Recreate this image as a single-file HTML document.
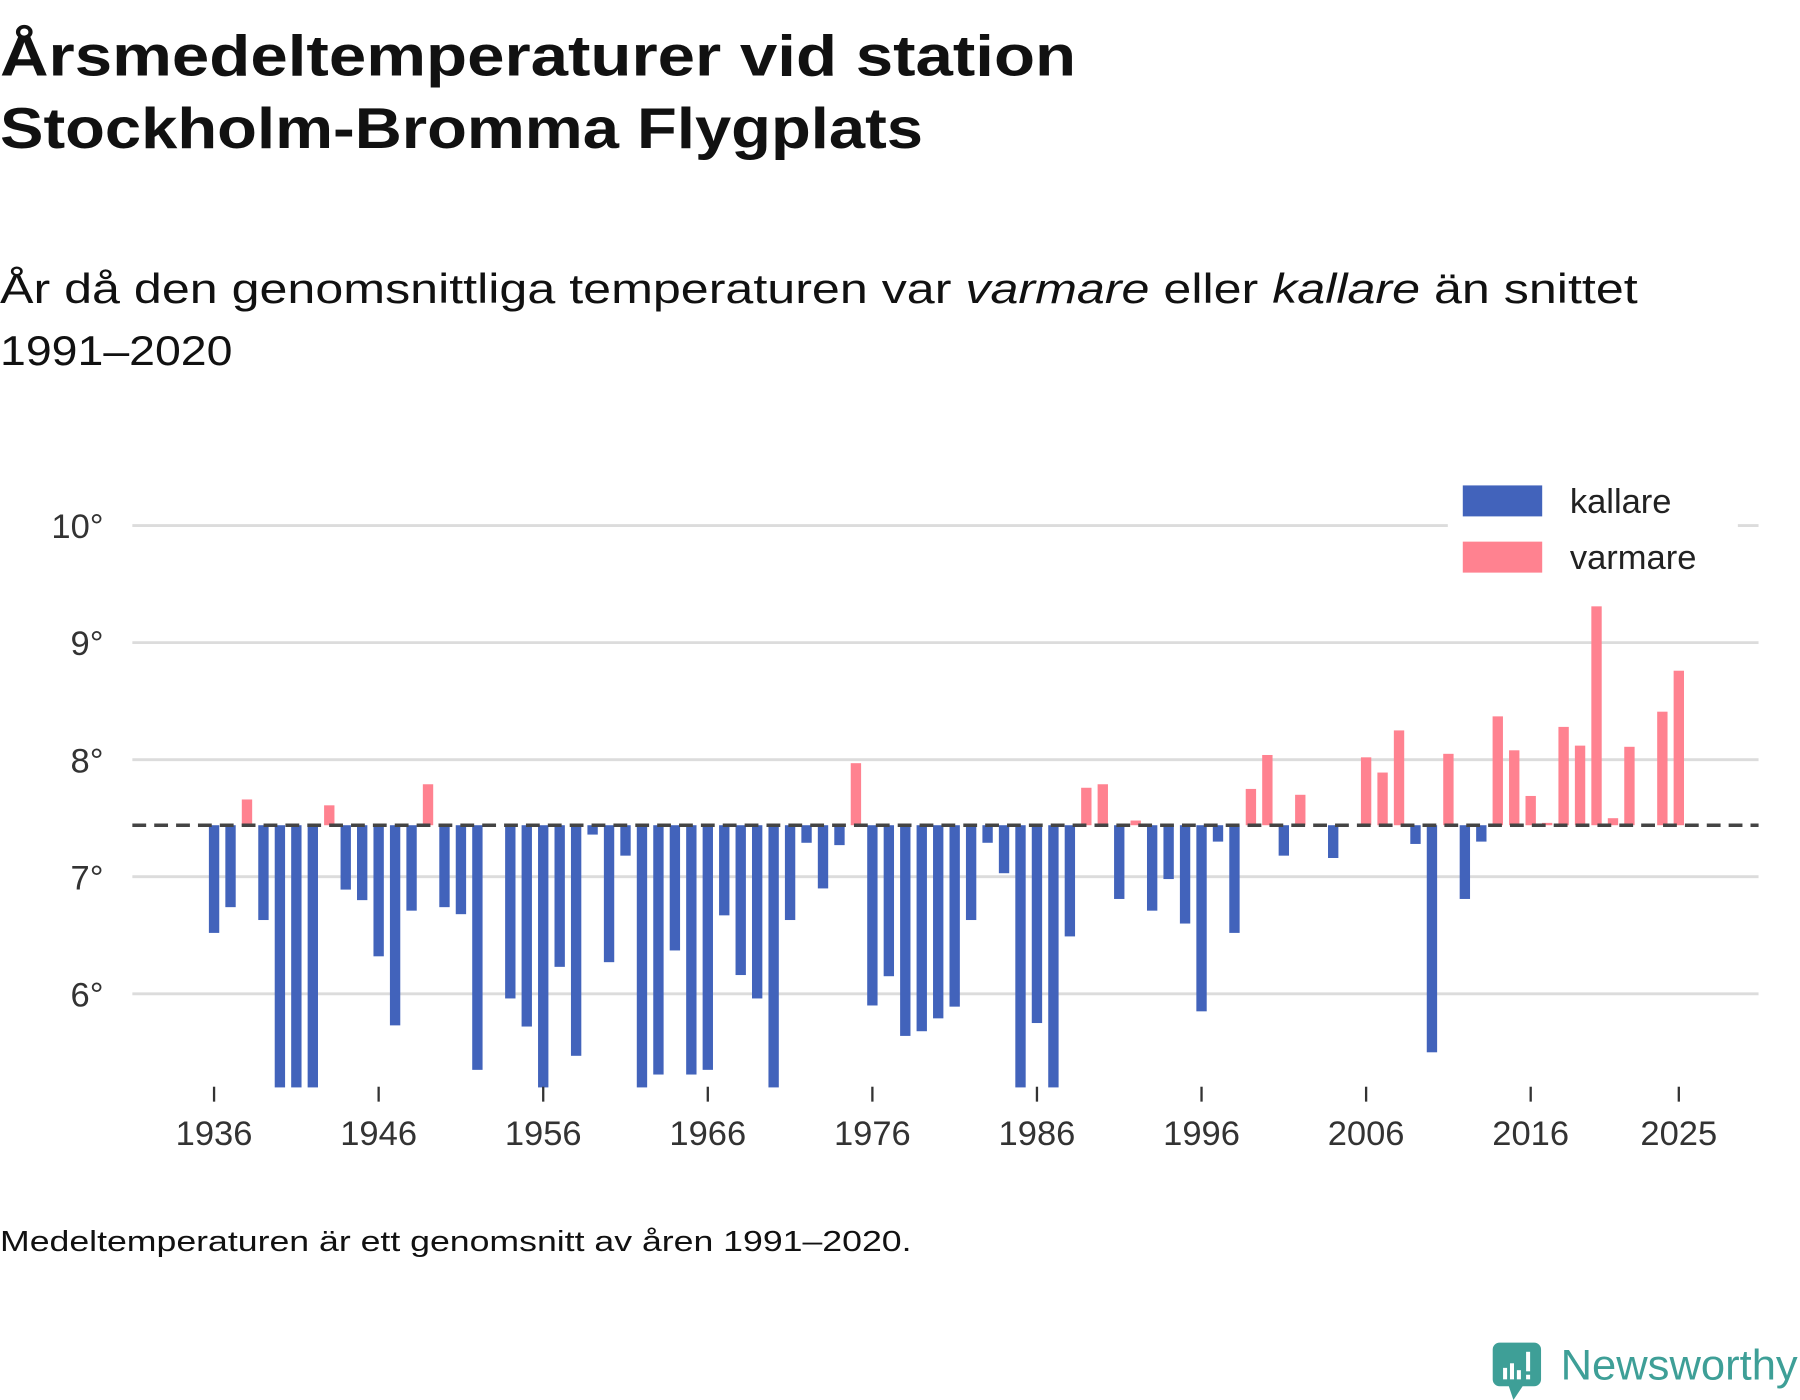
<!DOCTYPE html>
<html><head><meta charset="utf-8">
<style>
html,body{margin:0;padding:0;background:#fff;}
svg{display:block;}
text{font-family:"Liberation Sans",sans-serif;}
</style></head>
<body>
<svg id="chart" width="1800" height="1400" viewBox="0 0 1564 1220" preserveAspectRatio="none" xmlns="http://www.w3.org/2000/svg">
  <text x="0" y="66" font-size="50" font-weight="bold" fill="#111" textLength="935" lengthAdjust="spacingAndGlyphs">Årsmedeltemperaturer vid station</text>
  <text x="0" y="129" font-size="50" font-weight="bold" fill="#111" textLength="802" lengthAdjust="spacingAndGlyphs">Stockholm-Bromma Flygplats</text>
  <text x="0" y="264" font-size="36" fill="#111" textLength="1423" lengthAdjust="spacingAndGlyphs">År då den genomsnittliga temperaturen var <tspan font-style="italic">varmare</tspan> eller <tspan font-style="italic">kallare</tspan> än snittet</text>
  <text x="0" y="318" font-size="36" fill="#111" textLength="202" lengthAdjust="spacingAndGlyphs">1991–2020</text>
  <g id="grid"></g>
  <g id="bars"></g>
  <g id="xaxis"></g>
  <g>
    <rect x="1258" y="410" width="252" height="100" fill="#fff"/>
    <rect x="1271" y="423" width="69" height="27" fill="#4263bb"/>
    <text x="1364" y="447" font-size="30" fill="#222">kallare</text>
    <rect x="1271" y="472" width="69" height="27" fill="#ff8290"/>
    <text x="1364" y="496" font-size="30" fill="#222">varmare</text>
  </g>
  <text x="0" y="1090" font-size="25" fill="#111" textLength="792" lengthAdjust="spacingAndGlyphs">Medeltemperaturen är ett genomsnitt av åren 1991–2020.</text>
  <g>
    <path d="M1303 1170 h30 a6 6 0 0 1 6 6 v26 a6 6 0 0 1 -6 6 h-10 l-8 12 l-4 -12 h-8 a6 6 0 0 1 -6 -6 v-26 a6 6 0 0 1 6 -6z" fill="#3e9f97"/>
    <rect x="1306" y="1192" width="3.5" height="10" fill="#fff"/>
    <rect x="1312" y="1188" width="3.5" height="14" fill="#fff"/>
    <rect x="1318" y="1194" width="3.5" height="8" fill="#fff"/>
    <rect x="1326" y="1178" width="3.5" height="17" fill="#fff"/>
    <rect x="1326" y="1198" width="3.5" height="4" fill="#fff"/>
    <text x="1356" y="1202" font-size="37" fill="#3e9f97" textLength="206" lengthAdjust="spacingAndGlyphs">Newsworthy</text>
  </g>
</svg>
<script>
const years = [];
for (let y = 1936; y <= 2025; y++) years.push(y);
const temps = [
  6.52,6.74,7.66,6.63,5.2,5.2,5.2,7.61,6.89,6.80,
  6.32,5.73,6.71,7.79,6.74,6.68,5.35,null,5.96,5.72,
  5.2,6.23,5.47,7.36,6.27,7.18,5.2,5.31,6.37,5.31,
  5.35,6.67,6.16,5.96,5.2,6.63,7.29,6.90,7.27,7.97,
  5.90,6.15,5.64,5.68,5.79,5.89,6.63,7.29,7.03,5.2,
  5.75,5.2,6.49,7.76,7.79,6.81,7.48,6.71,6.98,6.60,
  5.85,7.30,6.52,7.75,8.04,7.18,7.70,null,7.16,null,
  8.02,7.89,8.25,7.28,5.50,8.05,6.81,7.30,8.37,8.08,
  7.69,7.46,8.28,8.12,9.31,7.50,8.11,null,8.41,8.76
];
const baseline = 7.44;
const yTicks = [6,7,8,9,10];
const yTickLabels = ["6°","7°","8°","9°","10°"];
const xTicks = [1936,1946,1956,1966,1976,1986,1996,2006,2016,2025];

const NS = "http://www.w3.org/2000/svg";
const yMinClip = 5.2;
function yScale(v){ return 662 - (v - 8) * 102; }
function xScale(yr){ return 186 + (yr - 1936) * 14.3; }
function mk(tag, attrs, parent){
  const e = document.createElementNS(NS, tag);
  for (const k in attrs) e.setAttribute(k, attrs[k]);
  parent.appendChild(e);
  return e;
}
const grid = document.getElementById('grid');
yTicks.forEach((t, i) => {
  const l = mk('line', {x1:115, x2:1528, y1:yScale(t), y2:yScale(t), stroke:'#dcdcdc', 'stroke-width':2.5}, grid);
  
  
  const tx = mk('text', {x:90, y:yScale(t)+11, 'font-size':30, fill:'#333', 'text-anchor':'end'}, grid);
  tx.textContent = yTickLabels[i];
  
  
});
const bars = document.getElementById('bars');
const y0 = yScale(baseline);
years.forEach((yr, i) => {
  const v = temps[i];
  if (v === null) return;
  const vv = Math.max(v, yMinClip);
  const yv = yScale(vv);
  const warm = v > baseline;
  const r = mk('rect', {x:xScale(yr)-4.5, width:9, y:Math.min(yv,y0), height:Math.max(Math.abs(yv-y0),1), fill: warm ? '#ff8290' : '#4263bb'}, bars);
  
  
});
const bl = mk('line', {x1:115, x2:1528, y1:y0, y2:y0, stroke:'#444', 'stroke-width':3, 'stroke-dasharray':'12 7'}, bars);


const xa = document.getElementById('xaxis');
xTicks.forEach(t => {
  const l = mk('line', {x1:xScale(t), x2:xScale(t), y1:947, y2:960, stroke:'#333', 'stroke-width':2}, xa);
  
  
  const tx = mk('text', {x:xScale(t), y:998, 'font-size':30, fill:'#333', 'text-anchor':'middle'}, xa);
  tx.textContent = t;
  
  
});
</script>
</body></html>
